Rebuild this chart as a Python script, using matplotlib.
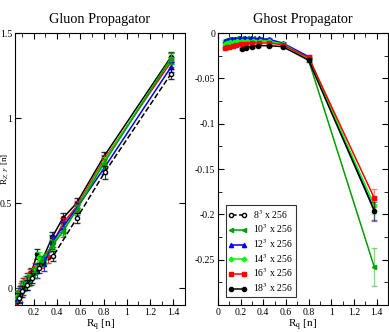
import matplotlib
matplotlib.use("Agg")
import matplotlib.pyplot as plt
from matplotlib.lines import Line2D
from matplotlib.ticker import MultipleLocator
from matplotlib.colors import to_rgba

plt.rcParams['font.family'] = ['Liberation Serif', 'DejaVu Serif']
plt.rcParams['mathtext.fontset'] = 'stix'

labels = [r"8$^3$ x 256", r"10$^3$ x 256", r"12$^3$ x 256",
          r"14$^3$ x 256", r"16$^3$ x 256", r"18$^3$ x 256"]
colors = ["black", "#00a000", "#0000ff", "#00ff00", "#ff0000", "black"]
markers = ["o", "<", "^", "P", "s", "o"]

# ---- Gluon propagator data (R_q, R_ZF, err) ----
g_x_8 = [0.07, 0.10, 0.14, 0.19, 0.25, 0.37, 0.57, 0.81, 1.38]
g_y_8 = [-0.06, -0.02, 0.02, 0.06, 0.12, 0.19, 0.41, 0.68, 1.26]
g_e_8 = [0.03, 0.03, 0.03, 0.03, 0.03, 0.03, 0.03, 0.04, 0.03]

g_x_10 = [0.06, 0.09, 0.12, 0.16, 0.21, 0.26, 0.36, 0.45, 0.57, 0.80, 1.38]
g_y_10 = [-0.05, -0.01, 0.01, 0.04, 0.09, 0.16, 0.25, 0.33, 0.46, 0.73, 1.35]
g_e_10 = [0.03, 0.03, 0.03, 0.03, 0.03, 0.03, 0.03, 0.03, 0.03, 0.03, 0.03]

g_x_12 = [0.06, 0.08, 0.11, 0.14, 0.18, 0.23, 0.29, 0.36, 0.45, 0.57, 0.80, 1.38]
g_y_12 = [-0.07, -0.04, 0.0, 0.03, 0.06, 0.10, 0.14, 0.27, 0.36, 0.47, 0.70, 1.30]
g_e_12 = [0.04, 0.04, 0.04, 0.04, 0.04, 0.04, 0.04, 0.04, 0.03, 0.03, 0.03, 0.03]

g_x_14 = [0.05, 0.07, 0.10, 0.13, 0.16, 0.20, 0.25, 0.30, 0.36, 0.45, 0.57, 0.80, 1.38]
g_y_14 = [-0.05, -0.03, 0.01, 0.04, 0.05, 0.09, 0.18, 0.17, 0.26, 0.34, 0.47, 0.74, 1.35]
g_e_14 = [0.03, 0.03, 0.03, 0.03, 0.03, 0.03, 0.03, 0.03, 0.03, 0.03, 0.03, 0.03, 0.03]

g_x_16 = [0.05, 0.07, 0.09, 0.11, 0.14, 0.17, 0.21, 0.26, 0.32, 0.37, 0.45, 0.57, 0.80, 1.38]
g_y_16 = [-0.08, -0.04, 0.0, 0.03, 0.06, 0.08, 0.12, 0.15, 0.18, 0.27, 0.38, 0.48, 0.75, 1.33]
g_e_16 = [0.03, 0.03, 0.03, 0.03, 0.03, 0.03, 0.03, 0.03, 0.03, 0.03, 0.03, 0.03, 0.03, 0.03]

g_x_18 = [0.05, 0.06, 0.08, 0.10, 0.12, 0.15, 0.18, 0.23, 0.27, 0.36, 0.45, 0.57, 0.80, 1.38]
g_y_18 = [-0.09, -0.05, -0.02, 0.01, 0.03, 0.06, 0.09, 0.20, 0.16, 0.30, 0.41, 0.50, 0.77, 1.36]
g_e_18 = [0.03, 0.03, 0.03, 0.03, 0.03, 0.03, 0.03, 0.03, 0.03, 0.03, 0.03, 0.03, 0.03, 0.03]

# ---- Ghost propagator data ----
h_x_10 = [0.07, 0.10, 0.13, 0.17, 0.21, 0.26, 0.31, 0.37, 0.45, 0.57, 0.80, 1.38]
h_y_10 = [-0.008, -0.007, -0.007, -0.006, -0.006, -0.006, -0.006, -0.007, -0.008, -0.012, -0.030, -0.258]
h_e_10 = [0.001, 0.001, 0.001, 0.001, 0.001, 0.001, 0.001, 0.001, 0.001, 0.001, 0.002, 0.021]

h_x_12 = [0.06, 0.09, 0.12, 0.15, 0.19, 0.24, 0.29, 0.36, 0.45, 0.57, 0.80, 1.38]
h_y_12 = [-0.009, -0.008, -0.007, -0.007, -0.006, -0.006, -0.006, -0.006, -0.007, -0.011, -0.026, -0.195]
h_e_12 = [0.001, 0.001, 0.001, 0.001, 0.001, 0.001, 0.001, 0.001, 0.001, 0.001, 0.002, 0.012]

h_x_14 = [0.06, 0.08, 0.11, 0.14, 0.17, 0.21, 0.26, 0.31, 0.37, 0.45, 0.57, 0.80, 1.38]
h_y_14 = [-0.012, -0.011, -0.010, -0.010, -0.009, -0.009, -0.009, -0.009, -0.009, -0.009, -0.012, -0.028, -0.190]
h_e_14 = [0.001, 0.001, 0.001, 0.001, 0.001, 0.001, 0.001, 0.001, 0.001, 0.001, 0.001, 0.002, 0.010]

h_x_16 = [0.06, 0.08, 0.10, 0.13, 0.16, 0.20, 0.25, 0.30, 0.36, 0.45, 0.57, 0.80, 1.38]
h_y_16 = [-0.016, -0.015, -0.015, -0.014, -0.013, -0.012, -0.012, -0.011, -0.011, -0.011, -0.013, -0.027, -0.182]
h_e_16 = [0.001, 0.001, 0.001, 0.001, 0.001, 0.001, 0.001, 0.001, 0.001, 0.001, 0.001, 0.002, 0.010]

h_x_18 = [0.21, 0.25, 0.30, 0.35, 0.45, 0.57, 0.80, 1.38]
h_y_18 = [-0.018, -0.016, -0.015, -0.014, -0.014, -0.015, -0.030, -0.196]
h_e_18 = [0.001, 0.001, 0.001, 0.001, 0.001, 0.001, 0.002, 0.010]

gluon = [(g_x_8, g_y_8, g_e_8), (g_x_10, g_y_10, g_e_10), (g_x_12, g_y_12, g_e_12),
         (g_x_14, g_y_14, g_e_14), (g_x_16, g_y_16, g_e_16), (g_x_18, g_y_18, g_e_18)]
ghost = [None, (h_x_10, h_y_10, h_e_10), (h_x_12, h_y_12, h_e_12),
         (h_x_14, h_y_14, h_e_14), (h_x_16, h_y_16, h_e_16), (h_x_18, h_y_18, h_e_18)]

fig = plt.figure(figsize=(3.89, 3.32), dpi=100)
ax1 = fig.add_axes([0.0386, 0.0813, 0.437, 0.8193])
ax2 = fig.add_axes([0.5604, 0.0813, 0.4366, 0.8193])

def style(i):
    ls = "--" if i == 0 else "-"
    mfc = "white" if i == 0 else colors[i]
    return ls, mfc

for i, d in enumerate(gluon):
    x, y, e = d
    ls, mfc = style(i)
    ax1.errorbar(x, y, yerr=e, color=colors[i], ls=ls, lw=1.1, marker=markers[i],
                 ms=3, mfc=mfc, mec=colors[i], capsize=2, elinewidth=0.8,
                 ecolor=to_rgba(colors[i], 0.8), zorder=2 + (5 - i))

for i, d in enumerate(ghost):
    if d is None:
        continue
    x, y, e = d
    ls, mfc = style(i)
    ax2.errorbar(x, y, yerr=e, color=colors[i], ls=ls, lw=1.1, marker=markers[i],
                 ms=3, mfc=mfc, mec=colors[i], capsize=2.5, elinewidth=0.9,
                 ecolor=to_rgba(colors[i], 0.45), zorder=2 + i)

for ax in (ax1, ax2):
    ax.tick_params(which="both", direction="in", top=True, right=True, labelsize=7, pad=2)
    ax.tick_params(which="major", length=4)
    ax.tick_params(which="minor", length=3)

ax1.set_xlim(0.04, 1.5)
ax1.set_ylim(-0.1, 1.5)
ax1.xaxis.set_minor_locator(MultipleLocator(0.1))
ax1.set_xticks([0.2, 0.4, 0.6, 0.8, 1.0, 1.2, 1.4])
ax1.set_xticklabels(["0.2", "0.4", "0.6", "0.8", "1", "1.2", "1.4"])
ax1.set_yticks([0, 0.5, 1, 1.5])
ax1.set_yticklabels(["0", "0.5", "1", "1.5"])
ax1.set_title("Gluon Propagator", fontsize=10.3, pad=7)
ax1.set_xlabel(r"R$_{\rm q}$ [n]", fontsize=8, labelpad=1)
ax1.set_ylabel(r"R$_{Z,\ F}$ [n]", fontsize=6.5, labelpad=-8)

ax2.set_xlim(0, 1.5)
ax2.set_ylim(-0.3, 0)
ax2.xaxis.set_minor_locator(MultipleLocator(0.1))
ax2.set_xticks([0, 0.2, 0.4, 0.6, 0.8, 1.0, 1.2, 1.4])
ax2.set_xticklabels(["0", "0.2", "0.4", "0.6", "0.8", "1", "1.2", "1.4"])
ax2.set_yticks([0, -0.05, -0.1, -0.15, -0.2, -0.25])
ax2.set_yticklabels(["0", "-0.05", "-0.1", "-0.15", "-0.2", "-0.25"])
ax2.yaxis.set_minor_locator(MultipleLocator(0.025))
ax2.set_title("Ghost Propagator", fontsize=10.3, pad=7)
ax2.set_xlabel(r"R$_{\rm q}$ [n]", fontsize=8, labelpad=1)

handles = []
for i in range(6):
    ls, mfc = style(i)
    handles.append(Line2D([], [], color=colors[i], ls=ls, lw=1.1, marker=markers[i],
                          ms=3, mfc=mfc, mec=colors[i]))
leg = ax2.legend(handles, labels, loc="lower left", bbox_to_anchor=(0.045, 0.03),
                 fontsize=7, numpoints=2, handlelength=1.9, frameon=True,
                 fancybox=False, edgecolor="black", borderpad=0.3, labelspacing=0.18,
                 handletextpad=0.6, borderaxespad=0)
leg.get_frame().set_linewidth(0.8)

fig.savefig("out.png", dpi=100)
